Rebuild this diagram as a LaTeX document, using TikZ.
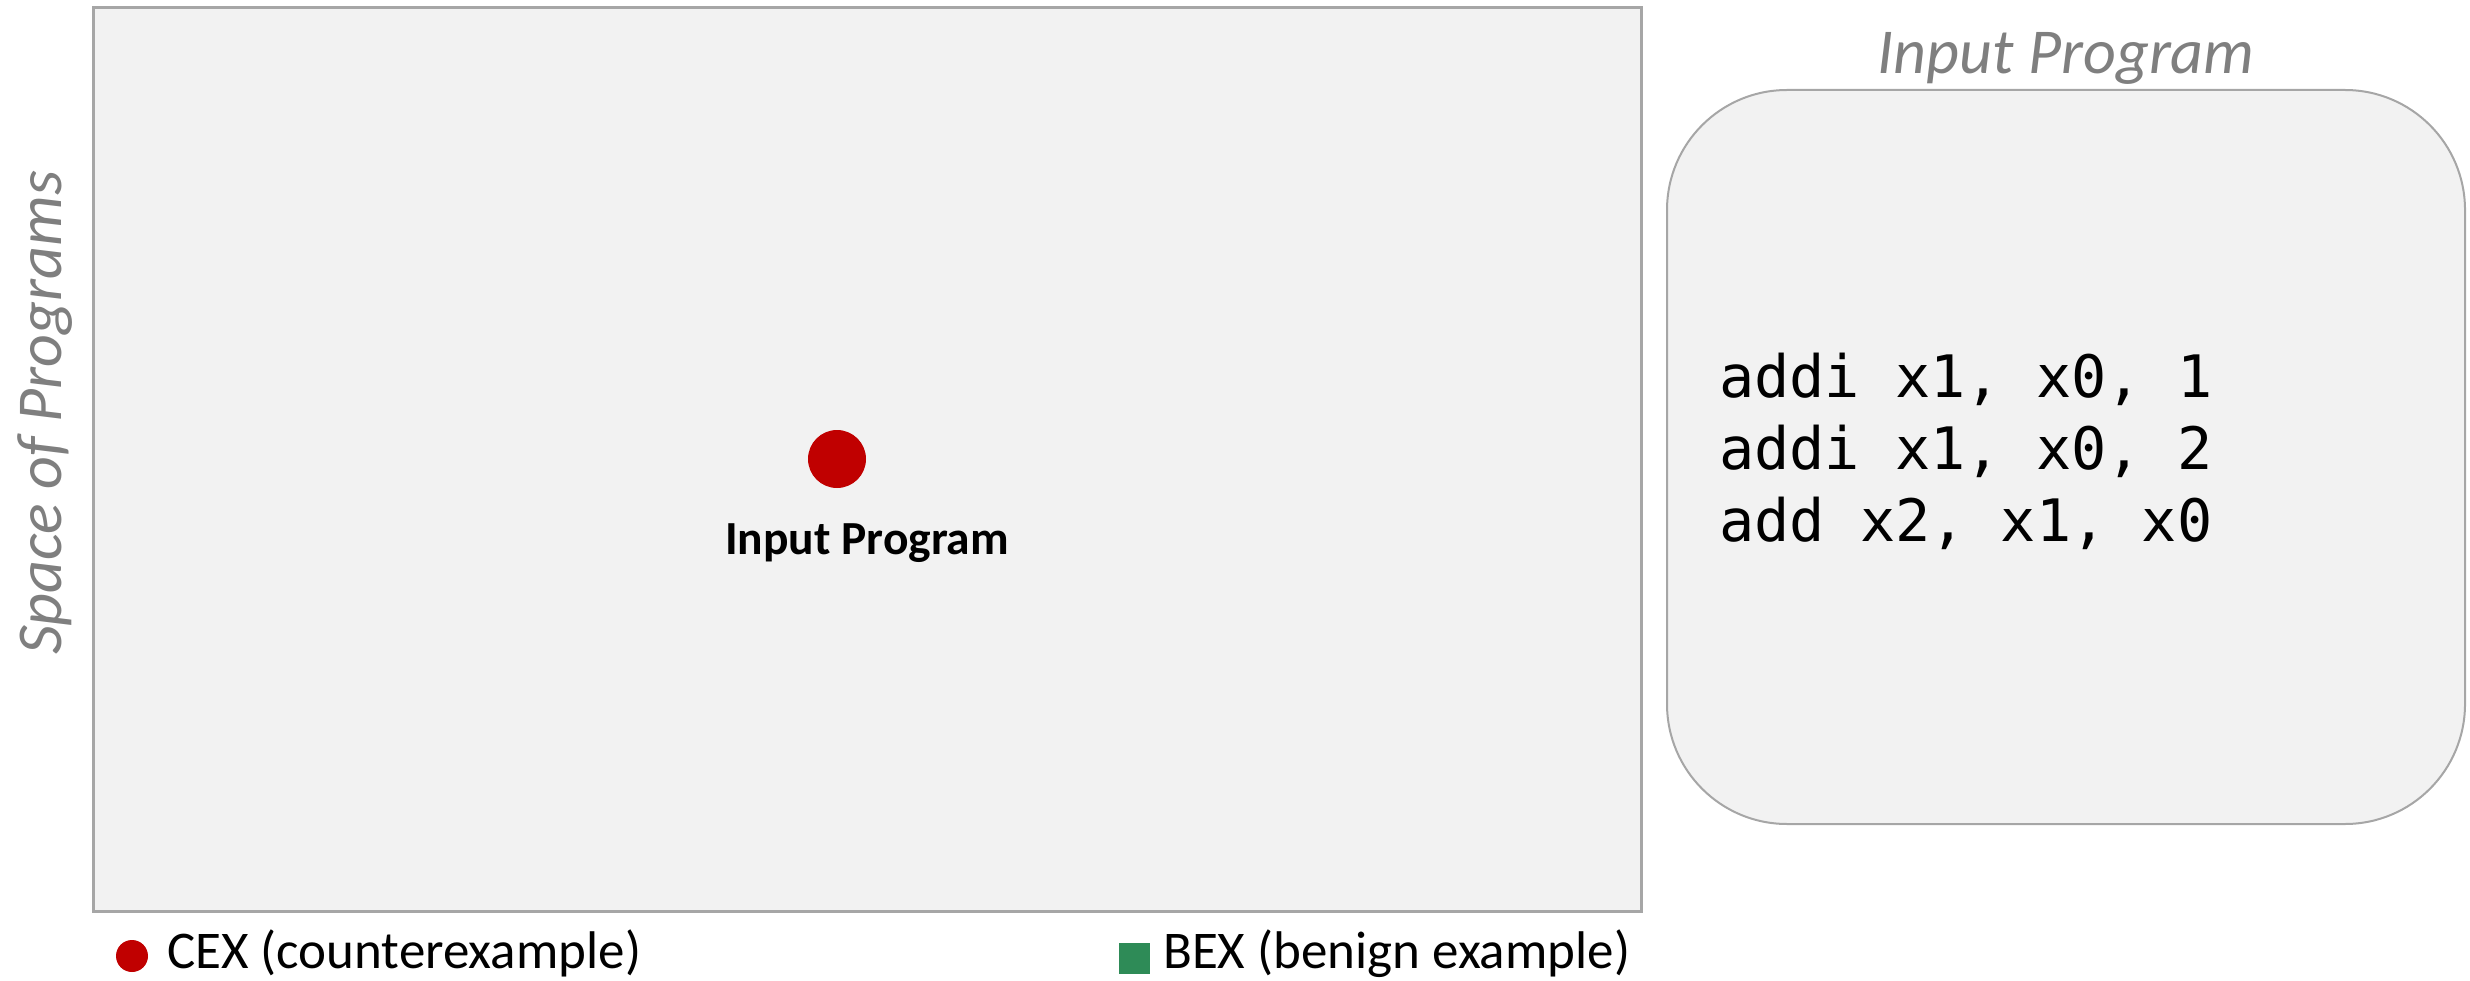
\documentclass[tikz,border=0pt]{standalone}
\usepackage{fontspec}
\setmainfont{Carlito}
\newfontfamily\codefont{DejaVu Sans Mono}
\definecolor{panelfill}{HTML}{F2F2F2}
\definecolor{panelline}{HTML}{A6A6A6}
\definecolor{labelgray}{HTML}{7F7F7F}
\definecolor{cexred}{HTML}{C00000}
\definecolor{bexgreen}{HTML}{2E8B57}
\begin{document}
\begin{tikzpicture}[x=1pt,y=-1pt,
  panel/.style={fill=panelfill,draw=panelline},
  axislabel/.style={text=labelgray,font=\fontsize{64}{70}\selectfont\itshape,inner sep=0pt},
  legendtext/.style={font=\fontsize{53}{60}\selectfont,inner sep=0pt,anchor=base west},
  codeline/.style={font=\codefont\fontsize{58.5}{70}\selectfont,inner sep=0pt,anchor=base west}]
  \useasboundingbox (0,0) rectangle (2470,981);

  % space of programs
  \draw[panel,line width=3pt] (93,8) rectangle (1641,911);
  \node[axislabel,rotate=90,anchor=base] (spacelbl) at (61,413) {Space of Programs};

  % the input program as a point in the space
  \node[circle,fill=cexred,minimum size=58pt,inner sep=0pt] (inpt) at (837,459) {};
  \node[font=\fontsize{47.5}{54}\selectfont\bfseries,inner sep=0pt,anchor=base] (inlbl) at (867,554) {Input Program};

  % legend
  \node[circle,fill=cexred,minimum size=32pt,inner sep=0pt] (cexmark) at (132,956) {};
  \node[legendtext] (cextext) at (167,968) {CEX (counterexample)};
  \node[rectangle,fill=bexgreen,minimum size=31pt,inner sep=0pt] (bexmark) at (1134,958) {};
  \node[legendtext] (bextext) at (1163,968) {BEX (benign example)};

  % program listing
  \node[axislabel,anchor=base] (codetitle) at (2066,74) {Input Program};
  \draw[panel,line width=2pt,rounded corners=120pt] (1667,90) rectangle (2465,824);
  \node[codeline] (code1) at (1719,397) {addi x1, x0, 1};
  \node[codeline] (code2) at (1719,469) {addi x1, x0, 2};
  \node[codeline] (code3) at (1719,541) {add x2, x1, x0};
\end{tikzpicture}
\end{document}
